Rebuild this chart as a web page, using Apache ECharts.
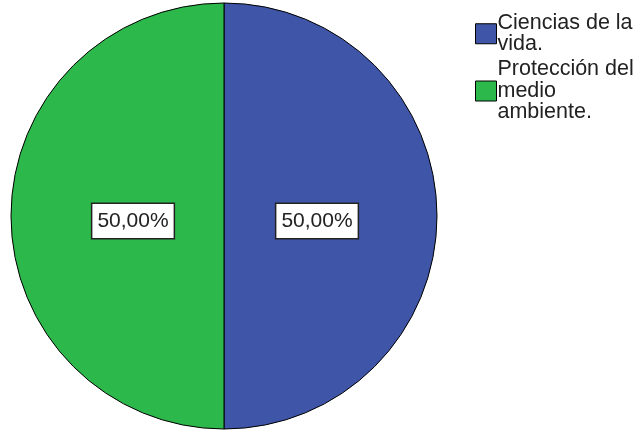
<!DOCTYPE html>
<html><head><meta charset="utf-8">
<script src="https://cdn.jsdelivr.net/npm/echarts@6/dist/echarts.min.js"></script>
<style>html,body{margin:0;padding:0;background:#fff}#c{width:634px;height:432px}</style>
</head><body><div id="c"></div>
<script>
const categories = ['Ciencias de la\nvida.', 'Protección del\nmedio\nambiente.'];
const values = [50, 50];
const colors = ['#3f56a8', '#2db84b'];
const labelText = ['50,00%', '50,00%'];

const data = categories.map((c, i) => ({ name: c, value: values[i], itemStyle: { color: colors[i] } }));
const chart = echarts.init(document.getElementById('c'));
chart.setOption({
  animation: false,
  legend: {
    orient: 'vertical', left: 470, top: 7,
    itemWidth: 21, itemHeight: 20, itemGap: 3,
    icon: 'rect',
    itemStyle: { borderColor: '#000', borderWidth: 1 },
    textStyle: { fontFamily: 'Liberation Sans, Arial', fontSize: 21.5, color: '#222', lineHeight: 21.5, padding: [0, 0, 0, -4] },
    data: categories
  },
  series: [{
    type: 'pie', center: [224, 216], radius: 213, startAngle: 90, clockwise: true,
    data: data,
    itemStyle: { borderColor: '#000', borderWidth: 1 },
    label: { show: false }, labelLine: { show: false }, silent: true
  }, {
    type: 'pie', center: [224, 216], radius: 178, startAngle: 90, clockwise: true,
    data: data.map(d => ({ name: d.name, value: d.value, itemStyle: { color: 'rgba(0,0,0,0)' } })),
    itemStyle: { borderWidth: 0 },
    silent: true, legendHoverLink: false,
    label: {
      show: true, position: 'inside',
      formatter: p => labelText[p.dataIndex],
      fontFamily: 'Liberation Sans, Arial', fontSize: 21, color: '#222',
      backgroundColor: '#fff', borderColor: '#222', borderWidth: 1.5,
      padding: [7, 5, 6, 5], offset: [1, 5]
    },
    labelLine: { show: false }
  }]
});
</script></body></html>
